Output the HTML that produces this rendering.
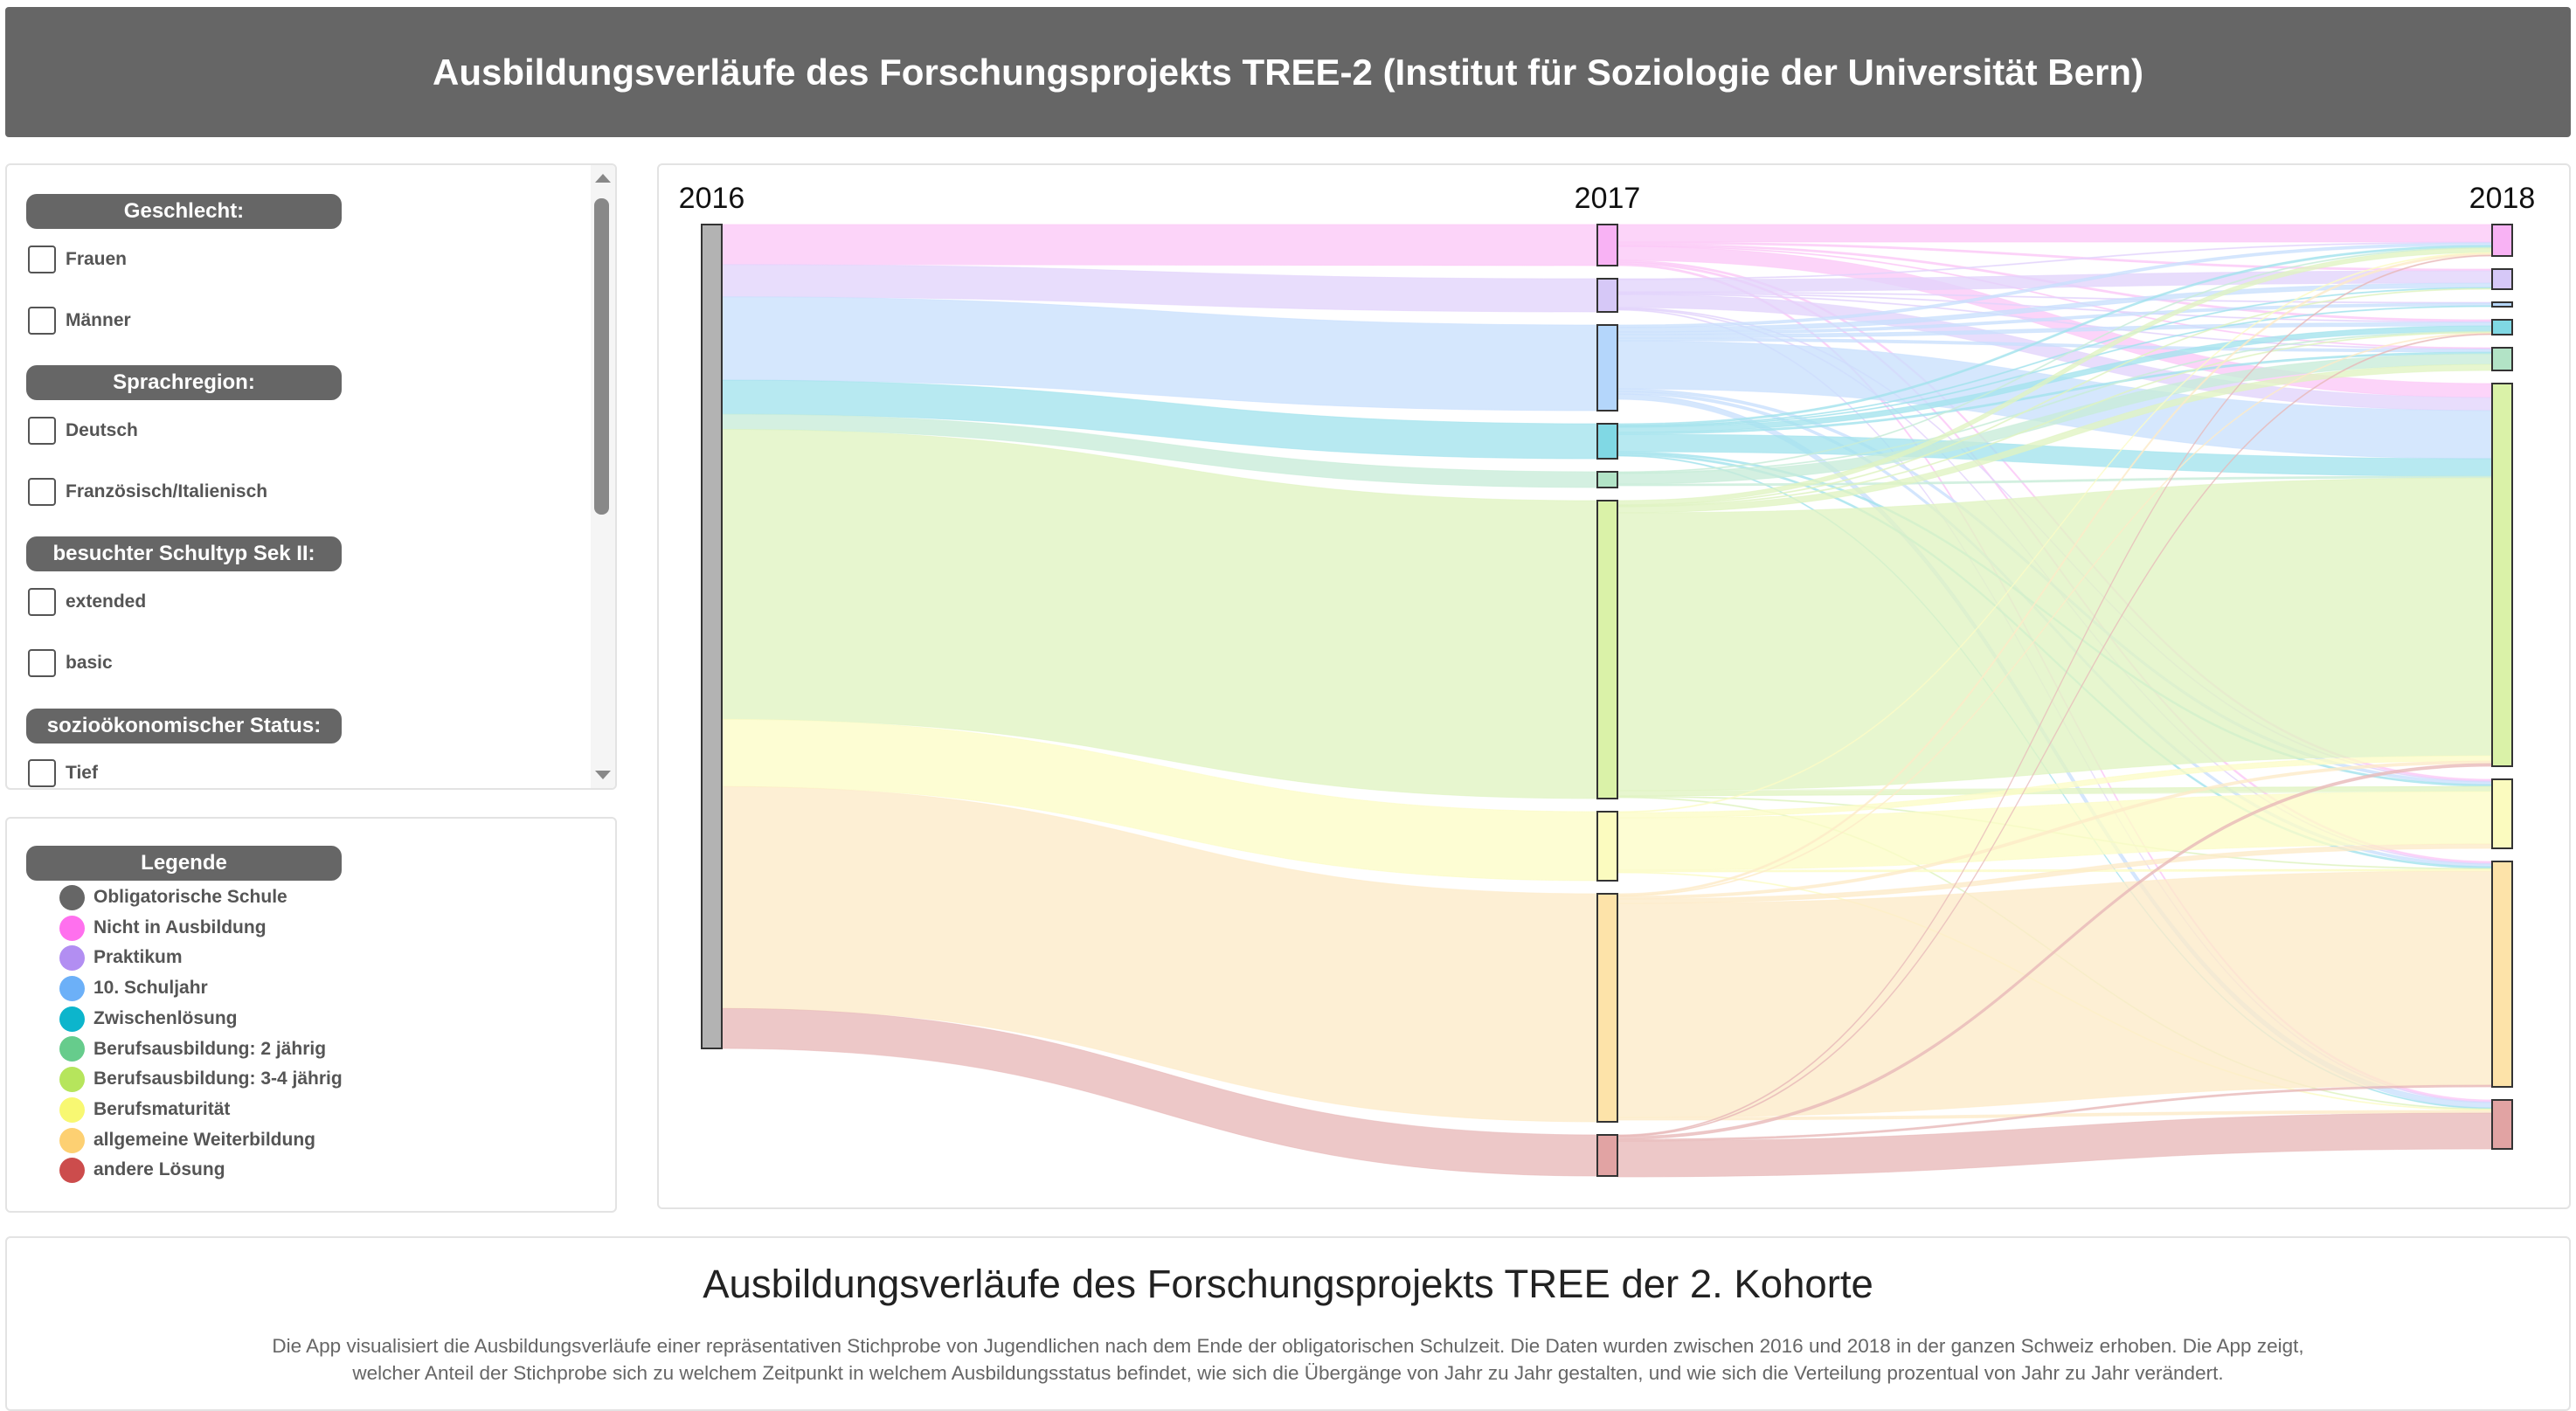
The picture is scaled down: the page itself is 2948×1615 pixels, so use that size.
<!DOCTYPE html>
<html><head><meta charset="utf-8">
<style>
body{margin:0;width:2948px;height:1591px;overflow:hidden;background:#fff;font-family:"Liberation Sans",sans-serif;position:relative}
.panel{position:absolute;border:2px solid #e3e3e3;border-radius:6px;background:#fff;box-sizing:border-box}
.pill{position:absolute;left:22px;width:361px;height:40px;background:#666;border-radius:12px;color:#fff;font-weight:bold;font-size:24px;text-align:center;line-height:40px}
.cb{position:absolute;left:24px;width:32px;height:32px;border:2px solid #555;border-radius:4px;box-sizing:border-box}
.cbl{position:absolute;left:67px;font-weight:bold;font-size:21px;color:#555}
.lg{position:absolute;left:60px;height:30px;line-height:30px;font-weight:bold;font-size:21px;color:#555}
.lg span{display:inline-block;width:29px;height:29px;border-radius:50%;vertical-align:middle;margin-right:10px}
</style></head><body>
<div style="position:absolute;left:6px;top:8px;width:2936px;height:149px;background:#666;border-radius:4px;color:#fff;font-weight:bold;font-size:42px;text-align:center;line-height:149px">Ausbildungsverläufe des Forschungsprojekts TREE-2 (Institut für Soziologie der Universität Bern)</div>

<div class="panel" style="left:6px;top:187px;width:700px;height:717px;overflow:hidden">
<div class="pill" style="top:33px">Geschlecht:</div>
<div class="cb" style="top:92px"></div><div class="cbl" style="top:96px">Frauen</div>
<div class="cb" style="top:162px"></div><div class="cbl" style="top:166px">Männer</div>
<div class="pill" style="top:229px">Sprachregion:</div>
<div class="cb" style="top:288px"></div><div class="cbl" style="top:292px">Deutsch</div>
<div class="cb" style="top:358px"></div><div class="cbl" style="top:362px">Französisch/Italienisch</div>
<div class="pill" style="top:425px">besuchter Schultyp Sek II:</div>
<div class="cb" style="top:484px"></div><div class="cbl" style="top:488px">extended</div>
<div class="cb" style="top:554px"></div><div class="cbl" style="top:558px">basic</div>
<div class="pill" style="top:622px">sozioökonomischer Status:</div>
<div class="cb" style="top:680px"></div><div class="cbl" style="top:684px">Tief</div>
<div style="position:absolute;left:668px;top:0;width:28px;height:715px;background:#f5f5f5"></div>
<div style="position:absolute;left:673px;top:10px;width:0;height:0;border-left:9px solid transparent;border-right:9px solid transparent;border-bottom:10px solid #888"></div>
<div style="position:absolute;left:672px;top:38px;width:17px;height:362px;background:#888;border-radius:8px"></div>
<div style="position:absolute;left:673px;top:693px;width:0;height:0;border-left:9px solid transparent;border-right:9px solid transparent;border-top:10px solid #888"></div>
</div>

<div class="panel" style="left:6px;top:935px;width:700px;height:453px">
<div class="pill" style="top:31px">Legende</div>
<div id="legend"></div>
</div>

<div class="panel" style="left:752px;top:187px;width:2190px;height:1197px"></div>
<svg id="chart" width="2948" height="1591" style="position:absolute;left:0;top:0"></svg>

<div class="panel" style="left:6px;top:1415px;width:2936px;height:200px">
<div style="position:absolute;left:0;right:0;top:27px;text-align:center;font-size:45.5px;color:#222">Ausbildungsverläufe des Forschungsprojekts TREE der 2. Kohorte</div>
<div style="position:absolute;left:0;right:0;top:108px;text-align:center;font-size:22.5px;line-height:31px;color:#666">Die App visualisiert die Ausbildungsverläufe einer repräsentativen Stichprobe von Jugendlichen nach dem Ende der obligatorischen Schulzeit. Die Daten wurden zwischen 2016 und 2018 in der ganzen Schweiz erhoben. Die App zeigt,<br>welcher Anteil der Stichprobe sich zu welchem Zeitpunkt in welchem Ausbildungsstatus befindet, wie sich die Übergänge von Jahr zu Jahr gestalten, und wie sich die Verteilung prozentual von Jahr zu Jahr verändert.</div>
</div>

<script>
const categories=["Nicht in Ausbildung","Praktikum","10. Schuljahr","Zwischenlösung","Berufsausbildung: 2 jährig","Berufsausbildung: 3-4 jährig","Berufsmaturität","allgemeine Weiterbildung","andere Lösung"];
const legendLabels=["Obligatorische Schule"].concat(categories);
const legendColors=["#666666","#ff70ee","#b28ef2","#6cb0f8","#0cb5cc","#66cc8c","#b6e55c","#f8f872","#fdd072","#cc4c4c"];
const nodeFill=["#f8b2f4","#d6c8f7","#b4d6fb","#80d8e4","#b2e3c6","#daf2a8","#fbfbbf","#fde3a9","#e1a3a3"];
const linkColor=["#fbc8f7","#e2d4fb","#c9e0fd","#a3e3ed","#c8ecd8","#e0f3c2","#fcfcc6","#fdebc8","#e8b9b9"];
// 2016 -> 2017 flow values (all from Obligatorische Schule)
const flows2016to2017=[47,38,98,40,18,341,79,261,47];
// 2017 -> 2018 flow matrix (rows: 2017 state, cols: 2018 state)
const flowsPink=[20,2,0,2,1,16,2,2,2];
const flowsPurple=[1,14,1,1,1,15,1,1,1];
const flowsBlue=[3,5,3,4,3,55,3,3,6];
const flowsTeal=[2,1,1,6,2,20,2,2,1];
const flowsG2=[1,0,0,1,12,2,0,0,0];
const flowsG34=[5,1,0,1,7,318,6,1,1];
const flowsYellow=[1,0,0,0,0,6,60,2,1];
const flowsOrange=[2,0,0,1,0,3,5,245,3];
const flowsRed=[1,0,0,1,0,3,0,2,41];
const years=["2016","2017","2018"];

const flows2017to2018=[flowsPink,flowsPurple,flowsBlue,flowsTeal,flowsG2,flowsG34,flowsYellow,flowsOrange,flowsRed];
const NS="http://www.w3.org/2000/svg";
const svg=document.getElementById('chart');
const colX=[803,1828,2852], nodeW=23, top0=257, gap=15, k=1, k16=943/969;
function mk(t,a){const e=document.createElementNS(NS,t);for(const p in a)e.setAttribute(p,a[p]);return e;}
const gLinks=mk('g',{});
const gNodes=mk('g',{});
svg.appendChild(gLinks);svg.appendChild(gNodes);

const v16=flows2016to2017.reduce((a,b)=>a+b,0);
const v17=flows2016to2017.slice();
const v18=categories.map((_,j)=>flows2017to2018.reduce((s,r)=>s+r[j],0));
function layout(vals){let y=top0;return vals.map(v=>{const n={y0:y,y1:y+v*k};y+=v*k+gap;return n;});}
const n16={y0:top0,y1:top0+v16*k16};
const n17=layout(v17), n18=layout(v18);

function ribbon(x0,a0,a1,x1,b0,b1,color,name){
  const xm=(x0+x1)/2;
  const p=mk('path',{d:`M${x0},${a0}C${xm},${a0} ${xm},${b0} ${x1},${b0}L${x1},${b1}C${xm},${b1} ${xm},${a1} ${x0},${a1}Z`,fill:color,'fill-opacity':0.78,stroke:color,'stroke-opacity':0.6,'stroke-width':1});
  
  
  gLinks.appendChild(p);
}
let sy=n16.y0;
flows2016to2017.forEach((v,i)=>{const ws=v*k16,wt=v*k;ribbon(colX[0]+nodeW,sy,sy+ws,colX[1],n17[i].y0,n17[i].y0+wt,linkColor[i],'link-2016-2017');sy+=ws;});
const inOff=n18.map(n=>n.y0);
flows2017to2018.forEach((row,i)=>{let oy=n17[i].y0;row.forEach((v,j)=>{if(!v)return;const w=v*k;ribbon(colX[1]+nodeW,oy,oy+w,colX[2],inOff[j],inOff[j]+w,linkColor[i],'link-2017-2018');oy+=w;inOff[j]+=w;});});
function node(x,n,fill,name){const r=mk('rect',{x:x,y:n.y0,width:nodeW,height:Math.max(n.y1-n.y0,3),fill:fill,stroke:'#333','stroke-width':2});
gNodes.appendChild(r);}
node(colX[0],n16,'#b3b3b3','node-2016-obligatorisch');
n17.forEach((n,i)=>node(colX[1],n,nodeFill[i],'node-2017'));
n18.forEach((n,i)=>node(colX[2],n,nodeFill[i],'node-2018'));
years.forEach((y,i)=>{const t=mk('text',{x:colX[i]+nodeW/2,y:238,'text-anchor':'middle','font-size':34,fill:'#111','font-family':'Liberation Sans, sans-serif'});t.textContent=y;
svg.appendChild(t);});

const lg=document.getElementById('legend');
legendLabels.forEach((l,i)=>{const d=document.createElement('div');d.className='lg';d.style.top=(75+i*34.7)+'px';
d.innerHTML=`<span style="background:${legendColors[i]}"></span>${l}`;


lg.appendChild(d);});
</script>
</body></html>
